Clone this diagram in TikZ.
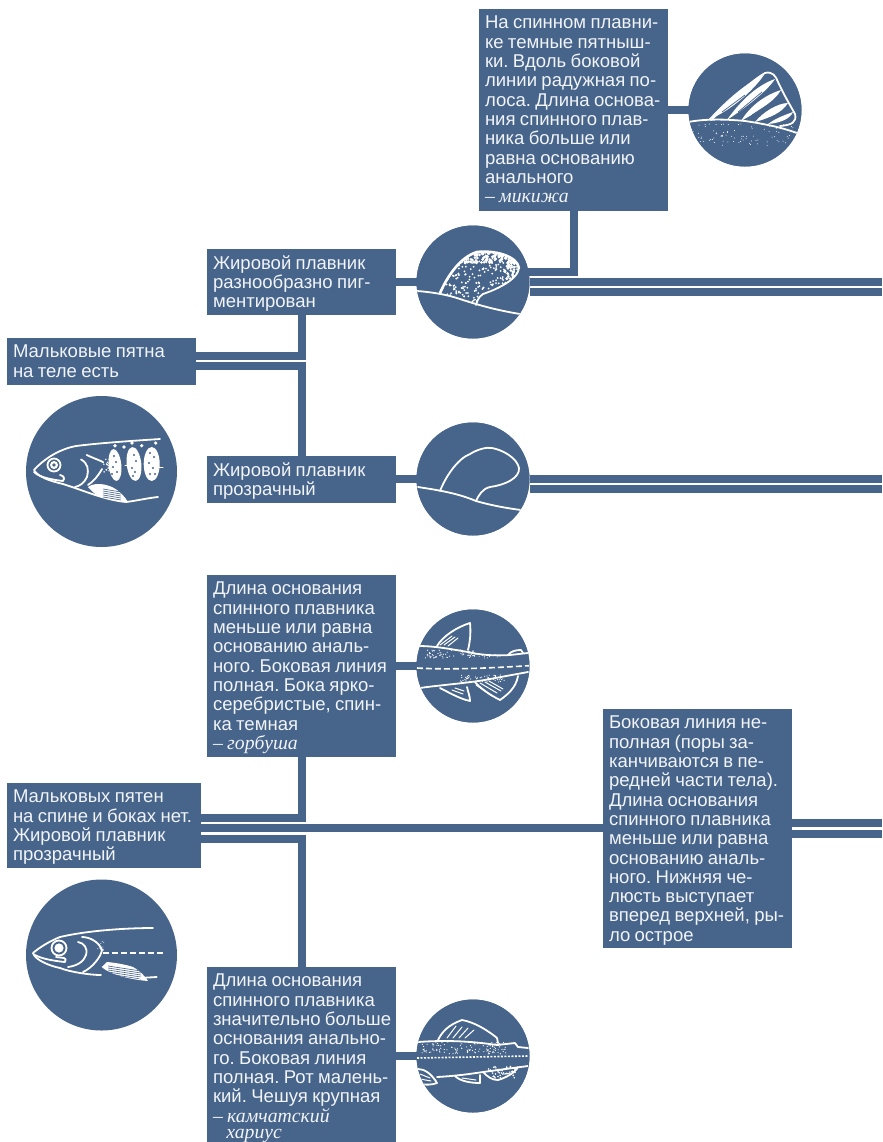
\documentclass[tikz,border=0pt]{standalone}
\usepackage{fontspec}
\setmainfont{Liberation Sans}
\newfontfamily\italserif{Liberation Serif}
\definecolor{fishblue}{HTML}{47648B}
\definecolor{paletext}{HTML}{F1F4F8}
\newdimen\pxu \pxu=0.75pt
\newcommand{\bodyfont}{\fontsize{13.9}{14.48}\selectfont}
\newcommand{\species}[1]{{\italserif\itshape\fontsize{14.8}{14.6}\selectfont #1}}
\newcommand{\txtbox}[6]{%
  \node[txtnode,anchor=north west] (#1) at (#2,#3) {%
    \begin{minipage}[c][#5\pxu][t]{\dimexpr#4\pxu-12\pxu\relax}%
    \frenchspacing\spaceskip=.235em\relax
    \vspace*{4.9pt}\raggedright\rule{0pt}{10pt}#6%
    \end{minipage}};}
\newcommand{\lens}[6]{\fill[white] #1 .. controls #2 and #3 .. #4 .. controls #5 and #6 .. cycle;}
\newcommand{\specks}[6]{\foreach \i in {1,...,#1}{%
  \pgfmathsetmacro\sx{#2+rnd*#4}\pgfmathsetmacro\sy{#3+rnd*#5}%
  \fill[white] (\sx,\sy) circle (#6);}}
\tikzset{
  txtnode/.style={fill=fishblue,text=paletext,inner xsep=6\pxu,inner ysep=0pt,outer sep=0pt,font=\bodyfont},
  conn/.style={draw=fishblue,line width=8\pxu,line join=miter,line cap=butt},
  smalldisc/.style={circle,fill=fishblue,inner sep=0pt,outer sep=0pt,minimum size=113\pxu},
  bigdisc/.style={circle,fill=fishblue,inner sep=0pt,outer sep=0pt,minimum size=151\pxu},
  ink/.style={draw=white,line width=1.8\pxu,line cap=round,line join=round},
  thinink/.style={draw=white,line width=1\pxu,line cap=round},
  fatink/.style={draw=white,line width=2.6\pxu,line cap=round,line join=round},
}
\begin{document}
\begin{tikzpicture}[x=0.75pt,y=-0.75pt]
\useasboundingbox (0,0) rectangle (882,1142);
\pgfmathsetseed{4242}
% ---- text boxes
\txtbox{boxA}{479}{9}{189}{202}{На спинном плавни-\\ке темные пятныш-\\ки. Вдоль боковой\\линии радужная по-\\лоса. Длина основа-\\ния спинного плав-\\ника больше или\\равна основанию\\анального\\\species{– микижа}}
\txtbox{boxB}{207}{249}{189}{66}{Жировой плавник\\разнообразно пиг-\\ментирован}
\txtbox{boxC}{7}{338}{189}{47}{Мальковые пятна\\на теле есть}
\txtbox{boxD}{207}{456}{189}{47}{Жировой плавник\\прозрачный}
\txtbox{boxF}{207}{575}{189}{182}{Длина основания\\спинного плавника\\меньше или равна\\основанию аналь-\\ного. Боковая линия\\полная. Бока ярко-\\серебристые, спин-\\ка темная\\\species{– горбуша}}
\txtbox{boxE}{7}{783}{194}{85}{Мальковых пятен\\на спине и боках нет.\\Жировой плавник\\прозрачный}
\txtbox{boxH}{603}{709}{189}{239}{Боковая линия не-\\полная (поры за-\\канчиваются в пе-\\редней части тела).\\Длина основания\\спинного плавника\\меньше или равна\\основанию аналь-\\ного. Нижняя че-\\люсть выступает\\вперед верхней, ры-\\ло острое}
\txtbox{boxG}{207}{967}{189}{175}{Длина основания\\спинного плавника\\\mbox{значительно больше}\\основания анально-\\го. Боковая линия\\полная. Рот малень-\\кий. Чешуя крупная\\\species{– камчатский}\\[-2.2pt]\species{\hspace*{10pt}хариус}}
% ---- discs
\node[smalldisc] (cT) at (745,110) {};
\node[smalldisc] (cB) at (473,282) {};
\node[smalldisc] (cD) at (473,479) {};
\node[smalldisc] (cF) at (473,666) {};
\node[smalldisc] (cG) at (473,1056) {};
\node[bigdisc] (cS) at (101.5,471.5) {};
\node[bigdisc] (cN) at (101.5,955) {};
% ---- junctions and free ends
\coordinate (j1) at (574,272);
\coordinate (j2) at (301.7,355.7);
\coordinate (j3) at (301.7,366.3);
\coordinate (j4) at (301.7,817.7);
\coordinate (j5) at (301.7,838.5);
\coordinate (jm) at (400,828);
\coordinate (e1) at (882,282);
\coordinate (e2) at (882,292);
\coordinate (e3) at (882,479);
\coordinate (e4) at (882,489.3);
\coordinate (e5) at (882,823);
\coordinate (e6) at (882,833.5);
% ---- connectors
\draw[conn] (boxA.east |- cT) -- (cT);
\draw[conn] (boxA.south -| j1) -- (j1) -- (cB.center |- j1);
\draw[conn] (boxB.east |- cB) -- (cB);
\draw[conn] (cB.east |- e1) -- (e1);
\draw[conn] (cB.east |- e2) -- (e2);
\draw[conn] (boxC.east |- j2) -- (j2) -- (j2 |- boxB.south);
\draw[conn] (boxC.east |- j3) -- (j3) -- (j3 |- boxD.north);
\draw[conn] (boxD.east |- cD) -- (cD);
\draw[conn] (cD.east |- e3) -- (e3);
\draw[conn] (cD.east |- e4) -- (e4);
\draw[conn] (boxF.east |- cF) -- (cF);
\draw[conn] (boxE.east |- j4) -- (j4) -- (j4 |- boxF.south);
\draw[conn] (boxE.east |- jm) -- (boxH.west |- jm);
\draw[conn] (boxE.east |- j5) -- (j5) -- (j5 |- boxG.north);
\draw[conn] (boxH.east |- e5) -- (e5);
\draw[conn] (boxH.east |- e6) -- (e6);
\draw[conn] (boxG.east |- cG) -- (cG);
% re-lay discs over connectors
\fill[fishblue] (cT) circle (56.5\pxu);
\fill[fishblue] (cB) circle (56.5\pxu);
\fill[fishblue] (cD) circle (56.5\pxu);
\fill[fishblue] (cF) circle (56.5\pxu);
\fill[fishblue] (cG) circle (56.5\pxu);
% ---- dorsal fin, striped (top right)
\begin{scope}
\clip (cT) circle (56.5\pxu);
\draw[ink] (690,121.7) .. controls (705,119) and (725,119) .. (745,121) .. controls (765,124) and (780,127) .. (797,133);
\draw[ink] (711,120) .. controls (730,103) and (745,85) .. (765,73) .. controls (772,71) and (776,76) .. (778,82) .. controls (784,95) and (790,105) .. (795,114) .. controls (797,122) and (792,125) .. (780,126);
\lens{(708,120)}{(722,105)}{(742,85)}{(764,75)}{(752,92)}{(730,111)}
\lens{(727,120)}{(738,104)}{(755,86)}{(775,79)}{(768,90)}{(748,106)}
\lens{(741,121)}{(750,106)}{(765,95)}{(781,90)}{(775,101)}{(757,112)}
\lens{(755,122)}{(763,112)}{(778,103)}{(788,103)}{(782,113)}{(769,118)}
\lens{(768,124)}{(776,118)}{(785,115)}{(793,112)}{(790,119)}{(780,123)}
\draw[fishblue,line width=0.7\pxu] (722,112) -- (745,95) (738,112) -- (762,92) (752,115) -- (772,102);
\specks{85}{693}{124}{100}{22}{0.5\pxu}
\end{scope}
% ---- adipose fin, speckled
\begin{scope}
\clip (cB) circle (56.5\pxu);
\draw[ink] (417,291) .. controls (430,292) and (445,294) .. (460,299) .. controls (475,304) and (495,310) .. (520,314);
\begin{scope}
\clip (440,293) .. controls (447,277) and (460,257) .. (477,252) .. controls (495,250) and (517,256) .. (519,268) .. controls (518,280) and (495,290) .. (483,294) .. controls (478,297) and (477,302) .. (476,305) -- (460,299) -- cycle;
\specks{300}{440}{250}{80}{55}{1\pxu}
\specks{130}{455}{250}{64}{13}{1.5\pxu}
\specks{50}{505}{255}{15}{25}{1.5\pxu}
\end{scope}
\draw[fatink] (440,293) .. controls (447,277) and (460,257) .. (477,252) .. controls (495,250) and (517,256) .. (519,268);
\draw[ink] (519,268) .. controls (518,280) and (495,290) .. (483,294) .. controls (478,297) and (477,302) .. (476,305);
\end{scope}
% ---- adipose fin, clear
\begin{scope}
\clip (cD) circle (56.5\pxu);
\draw[ink] (418,487) .. controls (430,489) and (455,492) .. (476,501) .. controls (490,505) and (505,508) .. (521,510);
\draw[ink] (440,491) .. controls (445,478) and (457,459) .. (470,454) .. controls (478,449) and (487,447) .. (492,448) .. controls (503,450) and (517,458) .. (519,468) .. controls (520,478) and (505,485) .. (490,487) .. controls (482,489) and (479,495) .. (476,501);
\end{scope}
% ---- parr fish
\draw[ink] (160,439) .. controls (130,441) and (100,443) .. (76,446) .. controls (60,449) and (45,458) .. (34,470) .. controls (38,477) and (50,481) .. (63,484) .. controls (85,491) and (105,500) .. (126,502) .. controls (135,501) and (148,498) .. (158,497);
\draw[ink] (34,472) .. controls (40,478) and (55,480) .. (63,481) .. controls (65,478) and (64,476) .. (60,475);
\draw[ink] (54,465) circle (6.5);
\fill[white] (54,465) circle (4);
\fill[fishblue] (54,465) circle (1.8);
\draw[ink] (81,459.5) .. controls (88,463) and (89,470) .. (87,477) .. controls (84,483) and (80,486) .. (75,487);
\draw[ink] (86.7,455) .. controls (93,458) and (99,460) .. (103,462);
\draw[ink] (102,469) .. controls (98,476) and (94,481) .. (88,485);
\fill[white] (88,487) .. controls (93,483) and (103,483) .. (112,487) .. controls (120,491) and (125,497) .. (128,502) .. controls (115,501) and (100,498) .. (94,493) -- cycle;
\foreach \yy in {489,491,493,495,497}{\draw[fishblue,line width=0.6\pxu] (103,\yy) -- (121,\yy+3);}
\fill[white,rotate around={6:(115,465)}] (115,465) ellipse (6.3 and 16);
\fill[white,rotate around={6:(134,464)}] (134,464) ellipse (7.3 and 17);
\fill[white] (151.7,464) ellipse (8 and 17);
\foreach \px/\py in {114/456,116/462,113/467,117/472,112/474,134/455,136/461,132/468,135/472,133/476,150/453,154/457,149/463,153/468,150/474,155/474}{\fill[fishblue] (\px,\py) circle (1.1\pxu);}
\foreach \px/\py in {115/445.7,124/447,132/443,141.7/445.7,155.7/443}{\fill[white] (\px,\py) circle (1.8\pxu);}
\specks{22}{102}{457}{9}{15}{0.8\pxu}
\draw[thinink] (158,467) -- (163,467) (125,465) -- (128,465);
% ---- lower left fish
\draw[ink] (153,928) .. controls (130,928) and (90,930) .. (60,937) .. controls (50,941) and (40,947) .. (33,953) .. controls (35,960) and (50,966) .. (60,968) .. controls (70,972) and (90,975) .. (101,975);
\draw[ink] (35,955) .. controls (42,959) and (55,961) .. (65,962) .. controls (66,960) and (66,958) .. (64,958) -- (56,957);
\draw[ink] (59,948) circle (7.5);
\fill[white] (59,948) circle (4.6);
\draw[ink] (78,942) .. controls (84,943) and (88,948) .. (86,955) .. controls (84,962) and (76,966) .. (68,967);
\draw[ink] (82,937) .. controls (90,937) and (99,942) .. (102,950) .. controls (101,957) and (92,968) .. (83,972);
\draw[white,line width=1.2\pxu,dash pattern=on 6\pxu off 3\pxu] (103,953) -- (163,953);
\specks{10}{97}{941}{7}{10}{0.5\pxu}
\fill[white] (101.7,967) -- (107,962) .. controls (118,963) and (127,965) .. (133,967) .. controls (140,971) and (145,976) .. (148,981) .. controls (135,980) and (112,976) .. cycle;
\foreach \yy in {966,968,970,972,974}{\draw[fishblue,line width=0.6\pxu] (108,\yy) -- (141,\yy+5);}
\draw[ink] (140,978) -- (156.7,977);
% ---- fish with spots (gorbusha)
\begin{scope}
\clip (cF) circle (56.5\pxu);
\draw[ink] (418,646) .. controls (435,646) and (450,649) .. (468,652) .. controls (480,655) and (495,656) .. (510,655) -- (528,653);
\draw[ink] (437,646) .. controls (443,636) and (457,627) .. (470,623) .. controls (471,633) and (470,642) .. (468,650);
\draw[thinink] (440,645) -- (452,636) (444,645) -- (455,637) (448,646) -- (458,638);
\draw[ink] (508,655) .. controls (511,651) and (516,650) .. (521,650) -- (523,653);
\draw[white,line width=1.6\pxu,dash pattern=on 6\pxu off 3\pxu] (417,668) .. controls (450,670) and (490,668) .. (529,665.7);
\draw[ink] (420,688) .. controls (440,685) and (470,683) .. (490,679) -- (528,672);
\draw[ink] (475,682) .. controls (480,688) and (490,695) .. (500,700) .. controls (507,695) and (516,688) .. (518,676);
\draw[thinink] (476,685) -- (492,696) (480,683) -- (497,693) (485,682) -- (501,691) (489,681) -- (503,689);
\draw[ink] (440,688) .. controls (448,692) and (460,699) .. (470,701) .. controls (470,696) and (468,692) .. (467,687);
\draw[thinink] (452,690) -- (463,694) (455,688) -- (464,691);
\specks{60}{425}{650}{50}{8}{0.6\pxu}
\specks{20}{470}{654}{30}{4}{0.5\pxu}
\specks{55}{460}{675}{45}{7}{0.6\pxu}
\end{scope}
% ---- fish with big dorsal (khariuz)
\begin{scope}
\clip (cG) circle (56.5\pxu);
\draw[ink] (418,1042) .. controls (445,1040) and (470,1041) .. (497,1045) -- (515,1043) -- (518,1047) -- (528,1048);
\draw[ink] (438,1040) .. controls (442,1032) and (448,1025) .. (462,1020) .. controls (475,1022) and (490,1032) .. (497,1038) -- (498,1043);
\draw[thinink] (447,1038) -- (456,1026) (453,1038) -- (462,1027) (459,1038) -- (468,1028) (465,1038) -- (474,1030);
\draw[white,line width=1.6\pxu,dash pattern=on 2\pxu off 1.5\pxu] (417,1058) -- (528,1056);
\draw[ink] (437,1077) .. controls (455,1076) and (470,1074) .. (483,1072) -- (528,1066);
\draw[ink] (483,1072) .. controls (488,1077) and (492,1080) .. (498,1080) .. controls (505,1078) and (515,1073) .. (518,1067);
\specks{45}{488}{1066}{28}{12}{0.9\pxu}
\draw[ink] (455,1076) .. controls (460,1081) and (470,1083) .. (480,1083) -- (480,1075);
\draw[thinink] (462,1078) -- (476,1080);
\draw[ink] (418,1069) .. controls (424,1069) and (431,1073) .. (437,1083) .. controls (432,1085) and (425,1085) .. (419,1084);
\draw[thinink] (420,1074) -- (430,1078) (420,1079) -- (431,1081);
\specks{120}{422}{1042}{85}{12}{0.6\pxu}
\end{scope}
\end{tikzpicture}
\end{document}
